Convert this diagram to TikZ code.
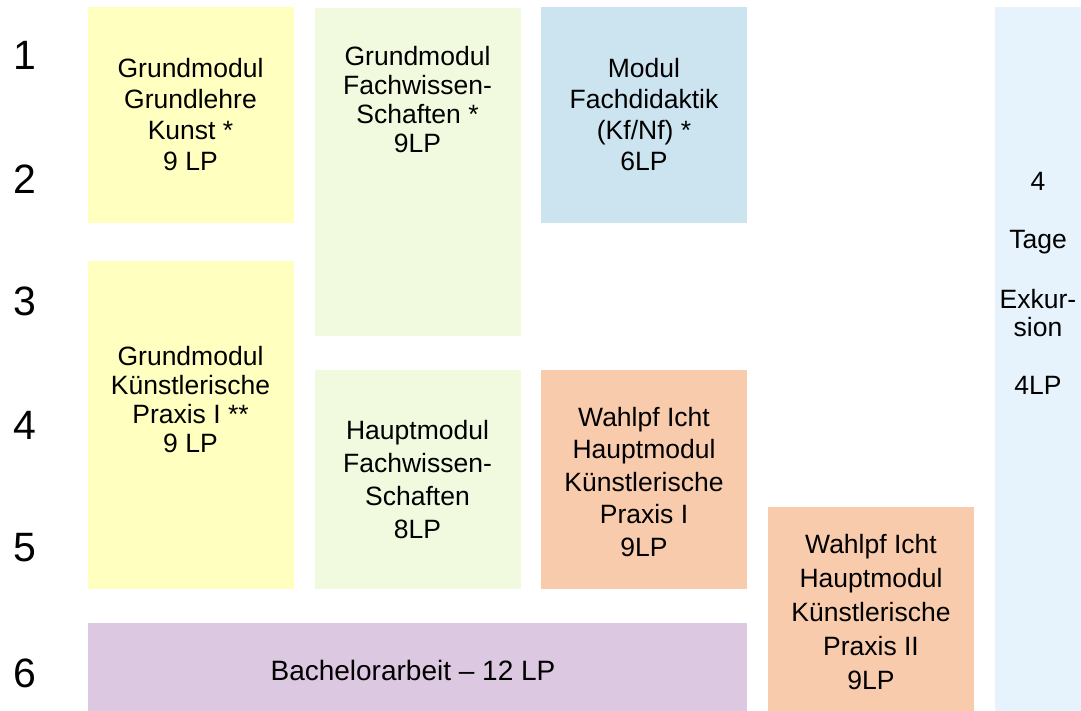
\documentclass[tikz,border=0pt]{standalone}
\usepackage{fontspec}
\setmainfont{Liberation Sans}
\usepackage{xcolor}
\usetikzlibrary{positioning}

\definecolor{gelb}{HTML}{FFFFC0}
\definecolor{gruen}{HTML}{F1FADF}
\definecolor{blau}{HTML}{CCE3F0}
\definecolor{hellblau}{HTML}{E6F3FC}
\definecolor{orange}{HTML}{F8CBAD}
\definecolor{lila}{HTML}{DCC8E0}

\begin{document}
\begin{tikzpicture}
	[x=1pt, y=-1pt,
	 blk/.style = {fill=#1, draw=none, inner sep=0pt, minimum width=206pt},
	 txt/.style = {align=center, inner sep=0pt, font=\fontsize{26.5}{31}\selectfont},
	 sem/.style = {inner sep=0pt, font=\fontsize{41}{41}\selectfont}]
	\useasboundingbox (0,0) rectangle (1081,711);
	% semester
	\foreach \s/\yy in {1/55, 2/179, 3/301, 4/425, 5/548, 6/673}
		\node[sem] (s\s) at (25,\yy) {\s};
	% module
	\node[blk=gelb, minimum height=216pt] (gl) at (190.5,115) {};
	\node[txt] (glt) at (gl) {Grundmodul\\Grundlehre\\Kunst *\\9 LP};
	\node[blk=gruen, minimum height=328pt] (gf) at (417.5,172) {};
	\node[txt, font=\fontsize{26.5}{29}\selectfont] (gft) at (417.5,100) {Grundmodul\\Fachwissen-\\Schaften *\\9LP};
	\node[blk=blau, minimum height=216pt] (fd) at (644,115) {};
	\node[txt] (fdt) at (fd) {Modul\\Fachdidaktik\\(Kf/Nf) *\\6LP};
	\node[blk=hellblau, minimum width=86pt, minimum height=704pt] (ex) at (1038,359) {};
	\node[txt, font=\fontsize{26.5}{28}\selectfont] (ext) at (1038,283) {4\\[30pt]Tage\\[32pt]Exkur-\\sion\\[30pt]4LP};
	\node[blk=gelb, minimum height=328pt] (kp) at (190.5,425) {};
	\node[txt, font=\fontsize{26.5}{29}\selectfont] (kpt) at (190.5,400) {Grundmodul\\K\"unstlerische\\Praxis I **\\9 LP};
	\node[blk=gruen, minimum height=219pt] (hf) at (417.5,479.5) {};
	\node[txt, font=\fontsize{26.5}{33}\selectfont] (hft) at (hf) {Hauptmodul\\Fachwissen-\\Schaften\\8LP};
	\node[blk=orange, minimum height=219pt] (w1) at (644,479.5) {};
	\node[txt, font=\fontsize{26.5}{32.5}\selectfont] (w1t) at (644,482) {Wahlpf Icht\\Hauptmodul\\K\"unstlerische\\Praxis I\\9LP};
	\node[blk=orange, minimum height=204pt] (w2) at (871,609) {};
	\node[txt, font=\fontsize{26.5}{34}\selectfont] (w2t) at (871,612) {Wahlpf Icht\\Hauptmodul\\K\"unstlerische\\Praxis II\\9LP};
	\node[blk=lila, minimum width=659pt, minimum height=88pt] (ba) at (417.5,667) {};
	\node[txt, font=\fontsize{28}{31}\selectfont] (bat) at (413,670) {Bachelorarbeit -- 12 LP};
\end{tikzpicture}
\end{document}
